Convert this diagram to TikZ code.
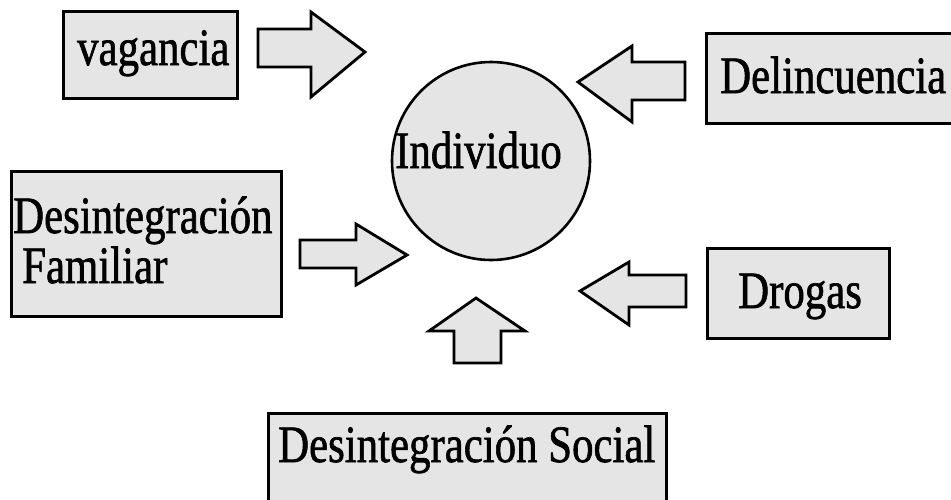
\documentclass[tikz,border=0pt]{standalone}
\usepackage{fontspec}
\setmainfont[FakeBold=1.3]{Liberation Serif}
\usetikzlibrary{calc}
\tikzset{
  stip/.style={fill=black!10},
  boxn/.style={draw, line width=2.6pt, stip, rectangle, inner sep=0pt, anchor=north west},
  lbl/.style={anchor=base west, inner sep=0pt, font=\fontsize{42}{48}\selectfont},
  blk/.style={draw, line width=2.8pt, stip, line join=miter},
}
\newcommand{\tall}[1]{\scalebox{1.02}[1.25]{#1}}
\begin{document}
\begin{tikzpicture}[x=1pt,y=-1pt]
\useasboundingbox (0,0) rectangle (951,499);
% boxes
\node[boxn, minimum width=174pt, minimum height=87pt] (vagbox) at (62,10) {};
\node[boxn, minimum width=250pt, minimum height=90pt] (delbox) at (705,32) {};
\node[boxn, minimum width=270pt, minimum height=145pt] (fambox) at (10,170) {};
\node[boxn, minimum width=182pt, minimum height=90pt] (drobox) at (706,247) {};
\node[boxn, minimum width=398pt, minimum height=92pt] (socbox) at (267,412) {};
% circle
\node[draw, line width=2.6pt, stip, circle, minimum size=198pt, inner sep=0pt] (ind) at (491,161) {};
% labels
\node[lbl] (vagl) at (77,65) {\tall{vagancia}};
\node[lbl] (dell) at (720,93) {\tall{Delincuencia}};
\node[lbl] (indl) at (395,168) {\tall{Individuo}};
\node[lbl] (faml1) at (13,233) {\tall{Desintegración}};
\node[lbl] (faml2) at (22,283) {\tall{Familiar}};
\node[lbl] (drol) at (738,308) {\tall{Drogas}};
\node[lbl] (socl) at (278,462) {\tall{Desintegración Social}};
% block arrows
\draw[blk] (258,29) -- (311,29) -- (311,12) -- (365,52) -- (311,97) -- (311,67) -- (258,67) -- cycle;
\draw[blk] (685,62) -- (632,62) -- (632,46) -- (578,82) -- (632,122) -- (632,100) -- (685,100) -- cycle;
\draw[blk] (300,240) -- (356,240) -- (356,224) -- (407,255) -- (356,285) -- (356,268) -- (300,268) -- cycle;
\draw[blk] (686,275) -- (629,275) -- (629,262) -- (580,291) -- (629,325) -- (629,307) -- (686,307) -- cycle;
\draw[blk] (454,363) -- (454,331) -- (429,331) -- (476,298) -- (525,331) -- (501,331) -- (501,363) -- cycle;
\end{tikzpicture}
\end{document}
